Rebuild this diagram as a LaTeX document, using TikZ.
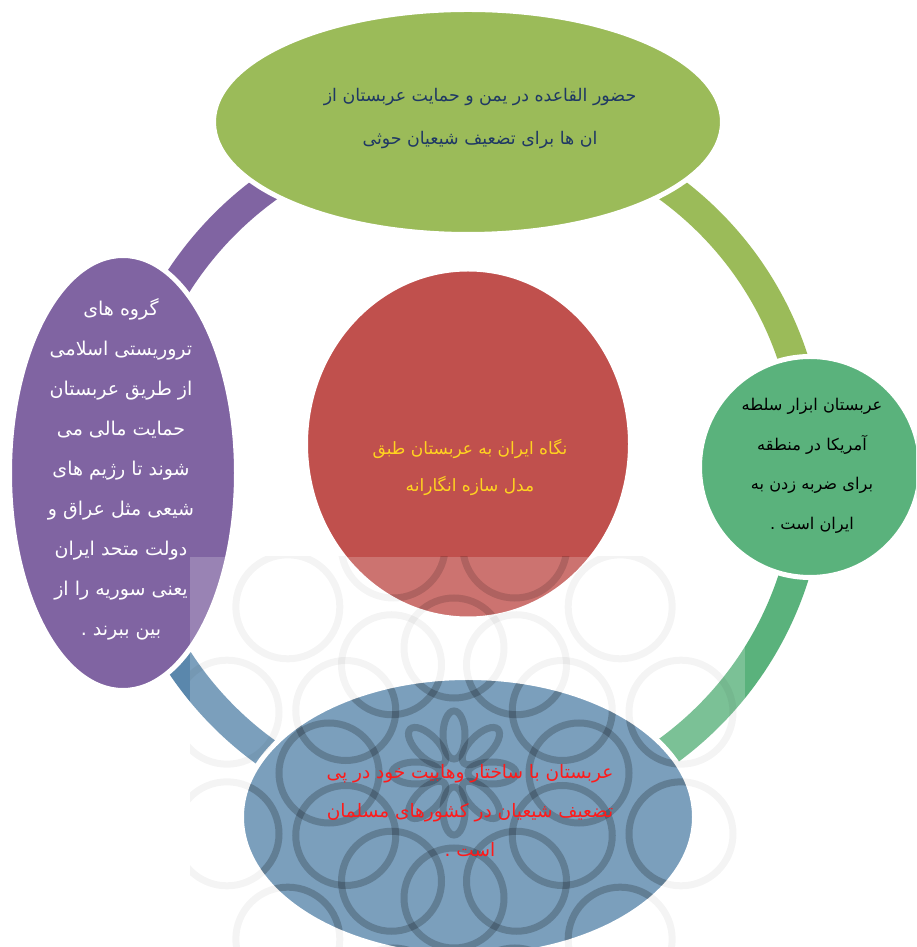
\documentclass[tikz,border=0pt]{standalone}
\usepackage{fontspec}
\usetikzlibrary{shapes.geometric}
\newfontfamily\arabicfont[Script=Arabic]{DejaVu Sans}
\TeXXeTstate=1
\newcommand{\rtl}[1]{\beginR #1\endR}
\definecolor{cTop}{HTML}{9BBB59}
\definecolor{cRight}{HTML}{5AB27C}
\definecolor{cLeft}{HTML}{8064A2}
\definecolor{cMid}{HTML}{C0504D}
\definecolor{cBot}{HTML}{5A87AC}
\definecolor{tTop}{HTML}{1F3864}
\definecolor{tMid}{HTML}{FFD320}
\definecolor{tBot}{HTML}{FF1A1A}
\newcommand{\myrosette}{%
  \foreach \a in {0,30,...,330} {
    \draw (\a:125pt) circle (50pt);
    \draw (\a+15:235pt) circle (52pt);
  }
  \foreach \a in {0,45,...,315} {
    \draw[rotate=\a] (38pt,0pt) ellipse (24pt and 11pt);
  }
}
\tikzset{
  blob/.style={ellipse, draw=white, line width=5pt, inner sep=0pt},
  ringarc/.style={line width=30pt, line cap=butt},
  lbl/.style={align=center, inner sep=0pt},
  wm/.style={shift={(454,174)}, draw=black, line width=7pt},
}
\begin{document}
\begin{tikzpicture}[x=1pt,y=1pt]
\useasboundingbox (0,0) rectangle (916,947);
\clip (0,0) rectangle (916,947);
\fill[white] (0,0) rectangle (916,947);
% centres
\coordinate (cT) at (468,825);
\coordinate (cR) at (810,480);
\coordinate (cL) at (123,474);
\coordinate (cB) at (468,130);
\coordinate (cM) at (468,503);
% ring connectors
\draw[ringarc, cLeft] (cL) to[bend left=45] (cT);
\draw[ringarc, cTop] (cT) to[bend left=45] (cR);
\draw[ringarc, cRight] (cR) to[bend left=45] (cB);
\draw[ringarc, cBot] (cB) to[bend left=45] (cL);
% nodes
\node[blob, fill=cTop, minimum width=509pt, minimum height=225pt] (top) at (cT) {};
\node[blob, fill=cRight, minimum width=221pt, minimum height=221pt] (right) at (cR) {};
\node[blob, fill=cLeft, minimum width=227pt, minimum height=435pt] (left) at (cL) {};
\node[blob, fill=cMid, minimum width=325pt, minimum height=350pt] (mid) at (cM) {};
\node[blob, fill=cBot, minimum width=453pt, minimum height=279pt] (bot) at (cB) {};
% watermark
\begin{scope}
  \clip (190,0) rectangle (745,390);
  \fill[white, opacity=0.2] (190,0) rectangle (745,390);
  \begin{scope}[wm, opacity=0.045]
    \myrosette
  \end{scope}
  \begin{scope}
    \clip (cB) ellipse (224pt and 137pt);
    \begin{scope}[wm, opacity=0.17]
      \myrosette
    \end{scope}
  \end{scope}
  \begin{scope}
    \clip (cM) ellipse (160pt and 172pt);
    \begin{scope}[wm, opacity=0.1]
      \myrosette
    \end{scope}
  \end{scope}
\end{scope}
% texts
\node[lbl, text=tTop, font={\arabicfont\fontsize{17.4}{43}\selectfont}] (ttop) at (480,828)
  {\rtl{حضور القاعده در یمن و حمایت عربستان از}\\\rtl{ان ها برای تضعیف شیعیان حوثی}};
\node[lbl, text=white, font={\arabicfont\fontsize{19}{40}\selectfont}] (tleft) at (121,478)
  {\rtl{گروه های}\\\rtl{تروریستی اسلامی}\\\rtl{از طریق عربستان}\\\rtl{حمایت مالی می}\\\rtl{شوند تا رژیم های}\\\rtl{شیعی مثل عراق و}\\\rtl{دولت متحد ایران}\\\rtl{یعنی سوریه را از}\\\rtl{بین ببرند .}};
\node[lbl, text=black, font={\arabicfont\fontsize{16.2}{39.5}\selectfont}] (tright) at (812,481)
  {\rtl{عربستان ابزار سلطه}\\\rtl{آمریکا در منطقه}\\\rtl{برای ضربه زدن به}\\\rtl{ایران است .}};
\node[lbl, text=tMid, font={\arabicfont\fontsize{17}{37}\selectfont}] (tmid) at (470,480)
  {\rtl{نگاه ایران به عربستان طبق}\\\rtl{مدل سازه انگارانه}};
\node[lbl, text=tBot, font={\arabicfont\fontsize{18.5}{39}\selectfont}] (tbot) at (470,136)
  {\rtl{عربستان با ساختار وهابیت خود در پی}\\\rtl{تضعیف شیعیان در کشورهای مسلمان}\\\rtl{است .}};
\end{tikzpicture}
\end{document}
